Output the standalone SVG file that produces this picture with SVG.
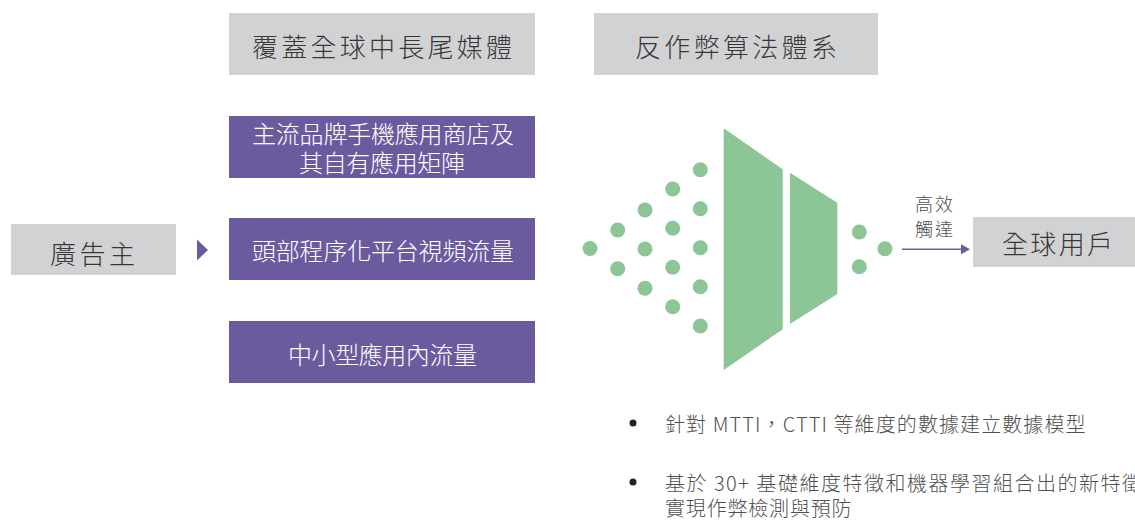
<svg xmlns="http://www.w3.org/2000/svg" width="1135" height="520" viewBox="0 0 1135 520">
<style>
text{font-family:"Noto Sans CJK TC","Noto Sans CJK SC",sans-serif;font-weight:300;dominant-baseline:central}
.gray{fill:#d1d2d4}
.purple{fill:#6b5b9e}
.green{fill:#8cc596}
.hdr{font-size:26px;fill:#3a3637}
.ptx{font-size:24px;fill:#ffffff}
.bul{font-size:20px;letter-spacing:1.5px;fill:#505050}
.lbl{font-size:18px;fill:#505050}
</style>
<defs>
<marker id="arr" markerUnits="userSpaceOnUse" markerWidth="9" markerHeight="10" refX="0" refY="5" orient="auto">
<path d="M0,0 L9,5 L0,10 z" fill="#6b5b9e"/>
</marker>
</defs>
<rect width="1135" height="520" fill="#ffffff"/>

<g id="header-media">
<rect class="gray" x="229" y="13" width="306" height="62"/>
<text class="hdr" x="252" y="45" textLength="260" lengthAdjust="spacing">覆蓋全球中長尾媒體</text>
</g>
<g id="header-antifraud">
<rect class="gray" x="594" y="13" width="284" height="62"/>
<text class="hdr" x="635" y="45" textLength="202" lengthAdjust="spacing">反作弊算法體系</text>
</g>

<g id="advertiser">
<rect class="gray" x="11" y="224" width="165" height="51"/>
<text class="hdr" x="50" y="252" textLength="85" lengthAdjust="spacing">廣告主</text>
</g>

<g id="media-app-stores">
<rect class="purple" x="229" y="116" width="306" height="62"/>
<text class="ptx" x="252" y="132.5" textLength="262" lengthAdjust="spacing">主流品牌手機應用商店及</text>
<text class="ptx" x="299" y="161" textLength="166" lengthAdjust="spacing">其自有應用矩陣</text>
</g>
<g id="media-video">
<rect class="purple" x="229" y="218" width="306" height="62"/>
<text class="ptx" x="252" y="249" textLength="262" lengthAdjust="spacing">頭部程序化平台視頻流量</text>
</g>
<g id="media-small-apps">
<rect class="purple" x="229" y="321" width="306" height="62"/>
<text class="ptx" x="288" y="353" textLength="189" lengthAdjust="spacing">中小型應用內流量</text>
</g>

<g id="funnel">
<circle class="green" cx="590" cy="248.5" r="7.5"/>
<circle class="green" cx="617.7" cy="230" r="7.5"/>
<circle class="green" cx="617.7" cy="268.7" r="7.5"/>
<circle class="green" cx="645" cy="210" r="7.5"/>
<circle class="green" cx="645" cy="249" r="7.5"/>
<circle class="green" cx="645" cy="288.3" r="7.5"/>
<circle class="green" cx="672.7" cy="189" r="7.5"/>
<circle class="green" cx="672.7" cy="228.3" r="7.5"/>
<circle class="green" cx="672.7" cy="267.3" r="7.5"/>
<circle class="green" cx="672.7" cy="306.7" r="7.5"/>
<circle class="green" cx="700.3" cy="169.7" r="7.5"/>
<circle class="green" cx="700.3" cy="208.7" r="7.5"/>
<circle class="green" cx="700.3" cy="247.7" r="7.5"/>
<circle class="green" cx="700.3" cy="286.7" r="7.5"/>
<circle class="green" cx="700.3" cy="326" r="7.5"/>
<polygon class="green" points="723.7,128.3 782.7,169.3 782.7,329.3 723.7,370"/>
<polygon class="green" points="790,172.7 837.3,202.7 837.3,294 790,324"/>
<circle class="green" cx="859.3" cy="232" r="7.5"/>
<circle class="green" cx="859.3" cy="266.7" r="7.5"/>
<circle class="green" cx="885" cy="248.7" r="7.5"/>
</g>

<g id="reach-label">
<text class="lbl" x="915" y="203" textLength="38" lengthAdjust="spacing">高效</text>
<text class="lbl" x="915" y="228" textLength="38" lengthAdjust="spacing">觸達</text>
</g>

<g id="global-users">
<rect class="gray" x="973" y="217" width="162" height="50"/>
<text class="hdr" x="1002" y="242" textLength="111" lengthAdjust="spacing">全球用戶</text>
</g>

<g id="connectors">
<polygon points="197,239.5 208,250 197,260.5" fill="#6b5b9e"/>
<line x1="902" y1="249.3" x2="961" y2="249.3" stroke="#6b5b9e" stroke-width="1.5" marker-end="url(#arr)"/>
</g>

<g id="bullets">
<circle cx="633" cy="423" r="3.5" fill="#222"/>
<text class="bul" x="665" y="423" textLength="422" lengthAdjust="spacing">針對 MTTI，CTTI 等維度的數據建立數據模型</text>
<circle cx="633" cy="482" r="3.5" fill="#222"/>
<text class="bul" x="665" y="482">基於 30+ 基礎維度特徵和機器學習組合出的新特徵</text>
<text class="bul" x="665" y="507" textLength="188" lengthAdjust="spacing">實現作弊檢測與預防</text>
</g>
</svg>
